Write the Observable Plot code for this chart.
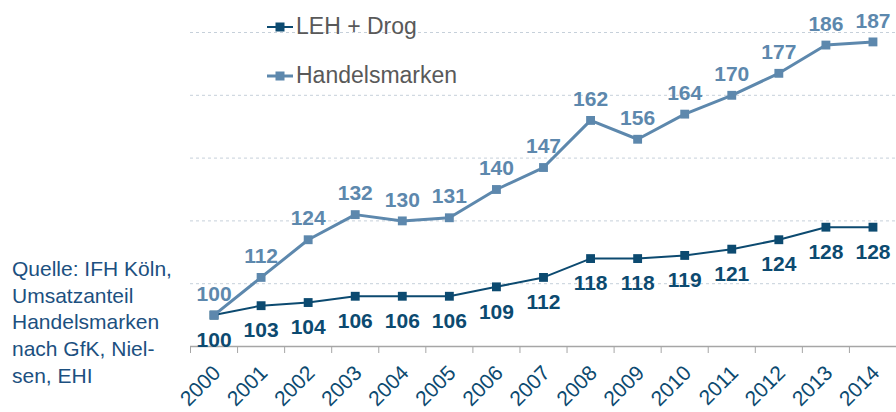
<!DOCTYPE html>
<html>
<head>
<meta charset="utf-8">
<script src="https://cdn.jsdelivr.net/npm/d3@7"></script>
<script src="https://cdn.jsdelivr.net/npm/@observablehq/plot@0.6"></script>
<style>
  html, body { margin: 0; padding: 0; background: #fff; }
  body { font-family: "Liberation Sans", Arial, sans-serif; }
  #wrap { position: relative; width: 896px; height: 412px; overflow: hidden; }
  #chart { position: absolute; left: 0; top: 0; }
  .legend { position: absolute; left: 267px; font-size: 23px; color: #595959; display: flex; align-items: center; white-space: nowrap; }
  .legend svg { margin-right: 3px; }
  #note { position: absolute; left: 12px; top: 256px; font-size: 21px; line-height: 26.7px; color: #1c5080; }
</style>
</head>
<body>
<div id="wrap">
  <div id="chart"></div>
  <div id="legend"></div>
  <div id="note"></div>
</div>
<script>
const years = ["2000","2001","2002","2003","2004","2005","2006","2007","2008","2009","2010","2011","2012","2013","2014"];
const lehDrog = [100,103,104,106,106,106,109,112,118,118,119,121,124,128,128];
const handelsmarken = [100,112,124,132,130,131,140,147,162,156,164,170,177,186,187];
const gridValues = [110,130,150,170,190];
const seriesNames = ["LEH + Drog", "Handelsmarken"];
const noteLines = ["Quelle: IFH Köln,", "Umsatzanteil", "Handelsmarken", "nach GfK, Niel-", "sen, EHI"];

const cLeh = "#0c4a70";
const cHm = "#5d88ad";

const idx = years.map((d, i) => i);
const bounds = d3.range(years.length + 1).map(i => i - 0.5);
const lehData = idx.map(i => ({i, v: lehDrog[i]}));
const hmData = idx.map(i => ({i, v: handelsmarken[i]}));

const chart = Plot.plot({
  width: 896,
  height: 412,
  marginLeft: 190,
  marginRight: 0,
  marginTop: 32,
  marginBottom: 66,
  style: {fontFamily: "'Liberation Sans', Arial, sans-serif", background: "transparent", overflow: "visible"},
  x: {type: "linear", domain: [-0.5, years.length - 0.5]},
  y: {domain: [90, 190], axis: null},
  marks: [
    Plot.ruleY(gridValues, {stroke: "#c6d0da", strokeDasharray: "3,3", strokeWidth: 1}),
    Plot.ruleY([90], {stroke: "#a6a6a6", strokeWidth: 1.5}),
    Plot.axisX({ticks: bounds, tickSize: 7, tickFormat: () => "", stroke: "#a6a6a6", label: null}),
    Plot.axisX({ticks: idx, tickSize: 0, tickPadding: 17, dx: 3, dy: 6, tickRotate: -45, tickFormat: i => years[i],
      fontSize: 21, fill: "#0c4a70", label: null}),
    Plot.line(lehData, {x: "i", y: "v", stroke: cLeh, strokeWidth: 2}),
    Plot.dot(lehData, {x: "i", y: "v", symbol: "square", r: 5, fill: cLeh}),
    Plot.line(hmData, {x: "i", y: "v", stroke: cHm, strokeWidth: 3}),
    Plot.dot(hmData, {x: "i", y: "v", symbol: "square", r: 5, fill: cHm}),
    Plot.text(lehData, {x: "i", y: "v", text: d => String(d.v), dy: 25, fontSize: 21, fontWeight: "bold", fill: cLeh}),
    Plot.text(hmData, {x: "i", y: "v", text: d => String(d.v), dy: -21, fontSize: 21, fontWeight: "bold", fill: cHm})
  ]
});
document.getElementById("chart").appendChild(chart);

// legend
const legend = document.getElementById("legend");
[[seriesNames[0], cLeh, 2, 13], [seriesNames[1], cHm, 3, 62]].forEach(([name, col, sw, top]) => {
  const div = document.createElement("div");
  div.className = "legend";
  div.style.top = top + "px";
  div.innerHTML = `<svg width="26" height="24"><line x1="0" x2="26" y1="12" y2="12" stroke="${col}" stroke-width="${sw}"/><rect x="8.5" y="7.5" width="9" height="9" fill="${col}"/></svg><span>${name}</span>`;
  legend.appendChild(div);
});

document.getElementById("note").innerHTML = noteLines.join("<br>");
</script>
</body>
</html>
